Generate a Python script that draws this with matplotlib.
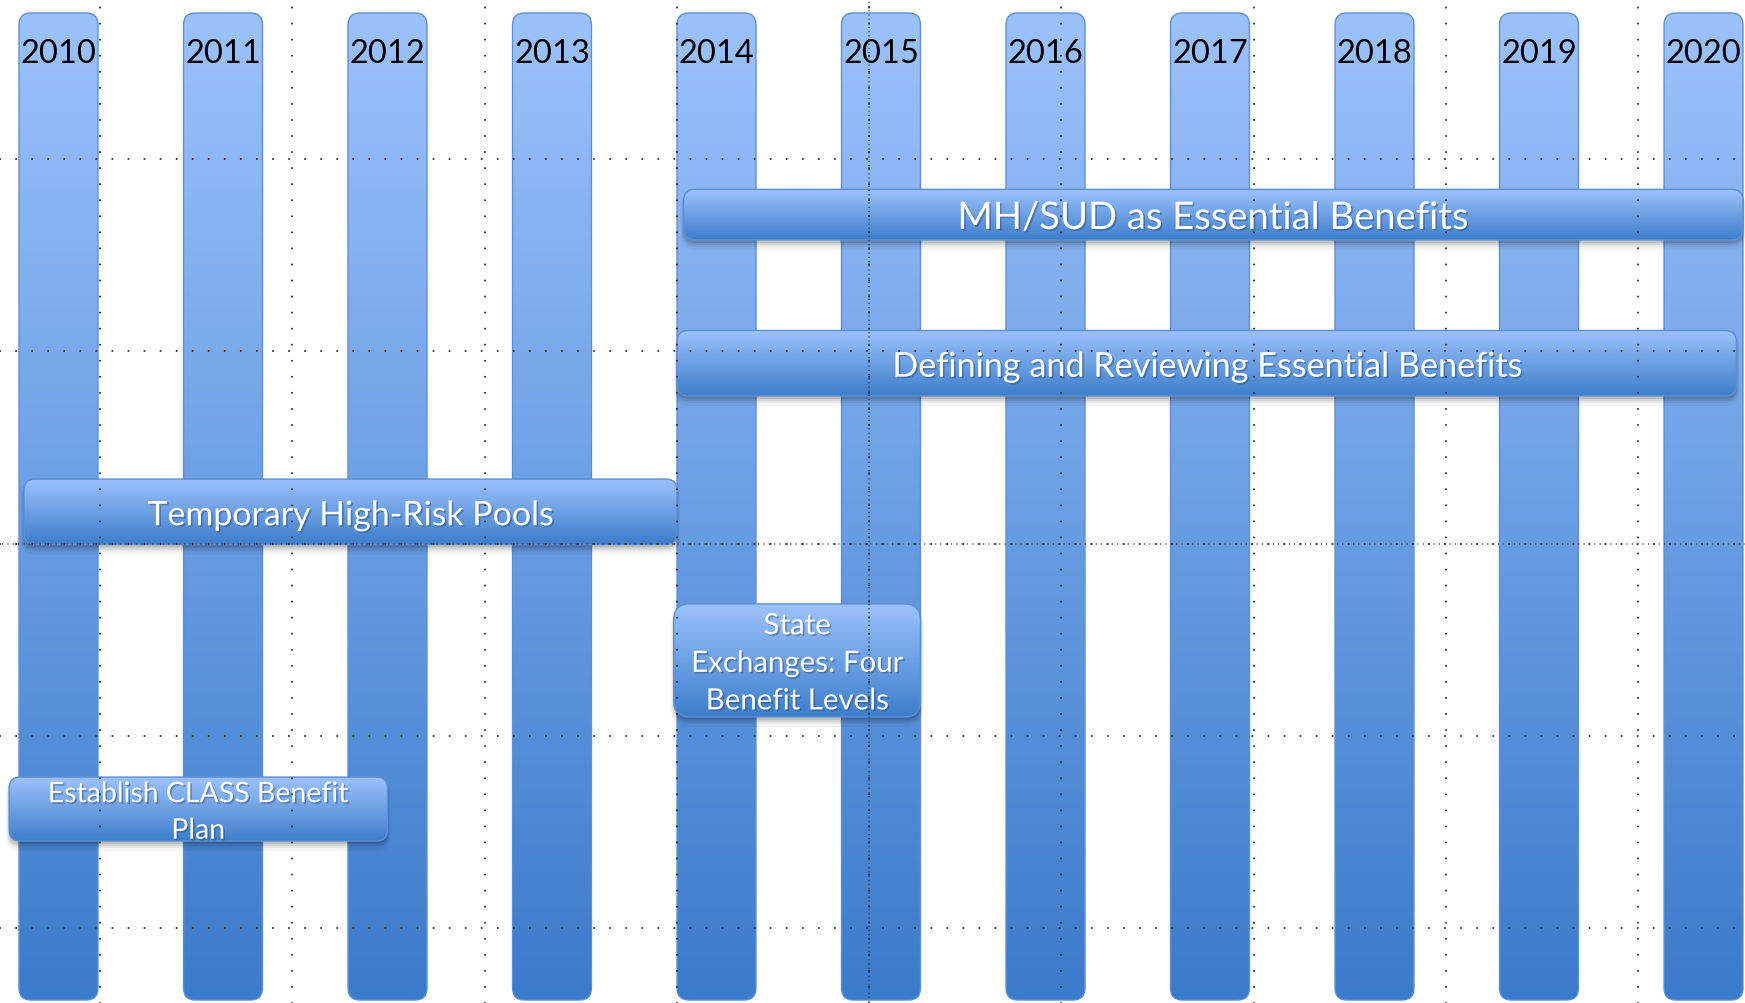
import numpy as np
import matplotlib
matplotlib.use("Agg")
import matplotlib.pyplot as plt
from matplotlib.patches import FancyBboxPatch
from matplotlib.transforms import IdentityTransform
from matplotlib.colors import to_rgb
import matplotlib.patheffects as pe

# ---------------- data ----------------
years = list(range(2010, 2021))
event_labels = [
    "MH/SUD as Essential Benefits",
    "Defining and Reviewing Essential Benefits",
    "Temporary High-Risk Pools",
    "State\nExchanges: Four\nBenefit Levels",
    "Establish CLASS Benefit\nPlan",
]
event_start = [2013.80, 2013.76, 2009.79, 2013.74, 2009.70]
event_end = [2020.24, 2020.20, 2013.76, 2015.24, 2012.00]
event_row = [0, 1, 2, 3, 4]

# ---------------- style ----------------
plt.rcParams["lines.scale_dashes"] = False
FONT = ["Lato", "DejaVu Sans"]
col_top, col_bot = "#9CC2FC", "#3B7BCB"
bar_top, bar_bot = "#9CC2FC", "#3E7ECB"
edge_color = "#5B90D4"
col_width = 0.48                  # in years
event_heights = [0.34, 0.44, 0.44, 0.76, 0.43]   # in row units
event_fontsizes = [27.5, 24.6, 24.4, 21.2, 20.5]
event_linespacing = [1.2, 1.2, 1.2, 1.55, 1.5]

W, H, DPI = 1745, 1004, 100
fig = plt.figure(figsize=(W / DPI, H / DPI), dpi=DPI)
fig.patch.set_facecolor("white")
ax = fig.add_axes([0, 0, 1, 1])
ax.set_axis_off()
ax.set_autoscale_on(False)

year_step_px, first_px = 164.5, 58.5
ax.set_xlim(years[0] - first_px / year_step_px, years[0] + (W - first_px) / year_step_px)
row_step_px, row0_px = 148.6, 215.6
ax.set_ylim((H - row0_px) / row_step_px, -row0_px / row_step_px)


def gradient(c_top, c_bot, n=256):
    t = np.linspace(0, 1, n)[:, None]
    a, b = np.array(to_rgb(c_top)), np.array(to_rgb(c_bot))
    return (a * (1 - t) + b * t)[:, None, :]


def rounded_gradient(pa, pb, radius, c_top, c_bot, z, shadow=False, lw=1.0):
    x0, x1 = sorted([pa[0], pb[0]])
    y0, y1 = sorted([pa[1], pb[1]])
    w, h = x1 - x0, y1 - y0
    if shadow:
        for dy, grow, a in [(7, 3, 0.04), (5, 2, 0.06), (4, 1, 0.08), (3, 0, 0.10)]:
            s = FancyBboxPatch((x0 - grow, y0 - dy - grow), w + 2 * grow, h + 2 * grow,
                               boxstyle=f"round,pad=0,rounding_size={radius + grow}",
                               transform=IdentityTransform(), facecolor="black",
                               edgecolor="none", alpha=a, zorder=z - 0.5)
            ax.add_patch(s)
    patch = FancyBboxPatch((x0, y0), w, h, boxstyle=f"round,pad=0,rounding_size={radius}",
                           transform=IdentityTransform(), facecolor="none",
                           edgecolor=edge_color, linewidth=lw, zorder=z + 0.1)
    ax.add_patch(patch)
    im = ax.imshow(gradient(c_top, c_bot), extent=(x0, x1, y0, y1), origin="upper",
                   aspect="auto", interpolation="bilinear",
                   transform=IdentityTransform(), zorder=z)
    im.set_clip_path(patch)


# year columns
xa = ax.get_xaxis_transform()
col_top_ax, col_bot_ax = 1 - 14 / H, 1 - 1001 / H
for y in years:
    pa = xa.transform((y - col_width / 2, col_top_ax))
    pb = xa.transform((y + col_width / 2, col_bot_ax))
    rounded_gradient(pa, pb, 12, col_top, col_bot, z=1, lw=1.0)
    ax.text(y, 1 - 54 / H, str(y), transform=xa, ha="center", va="center",
            fontsize=23.5, color="black", family=FONT, zorder=6)

# event bars
for lab, s, e, r, hgt, fs, ls in zip(event_labels, event_start, event_end, event_row,
                                       event_heights, event_fontsizes, event_linespacing):
    pa = ax.transData.transform((s, r - hgt / 2))
    pb = ax.transData.transform((e, r + hgt / 2))
    rad = 16 if hgt > 0.6 else 11
    rounded_gradient(pa, pb, rad, bar_top, bar_bot, z=3, shadow=True, lw=1.0)
    ax.annotate(lab, xy=((s + e) / 2, r), xytext=(0, -2.5), textcoords="offset points",
                ha="center", va="center", fontsize=fs, color="white",
                family=FONT, linespacing=ls, zorder=7,
                path_effects=[pe.withSimplePatchShadow(offset=(1.2, -1.2),
                                                       shadow_rgbFace="#1d3f6e", alpha=0.4)])

# dotted guide grid on top
gax = fig.add_axes([0, 0, 1, 1], zorder=10)
gax.set_xlim(0, W)
gax.set_ylim(H, 0)
gax.patch.set_alpha(0)
gax.set_xticks(np.arange(100, W, 192.3))
gax.set_yticks(np.arange(160, H, 192.3))
gax.tick_params(length=0, labelbottom=False, labelleft=False)
for sp in gax.spines.values():
    sp.set_visible(False)
gax.grid(True, color="#333333", linewidth=1.5, linestyle=(0, (0.01, 11.55)),
         dash_capstyle="round")
gax.axhline(160 + 2 * 192.3, color="#333333", linewidth=1.1,
            linestyle=(2, (0.01, 3.85)), dash_capstyle="round")
gax.axvline(100 + 4 * 192.3, color="#333333", linewidth=1.1,
            linestyle=(2, (0.01, 3.0)), dash_capstyle="round")

fig.savefig("out.png", dpi=DPI, facecolor="white")
